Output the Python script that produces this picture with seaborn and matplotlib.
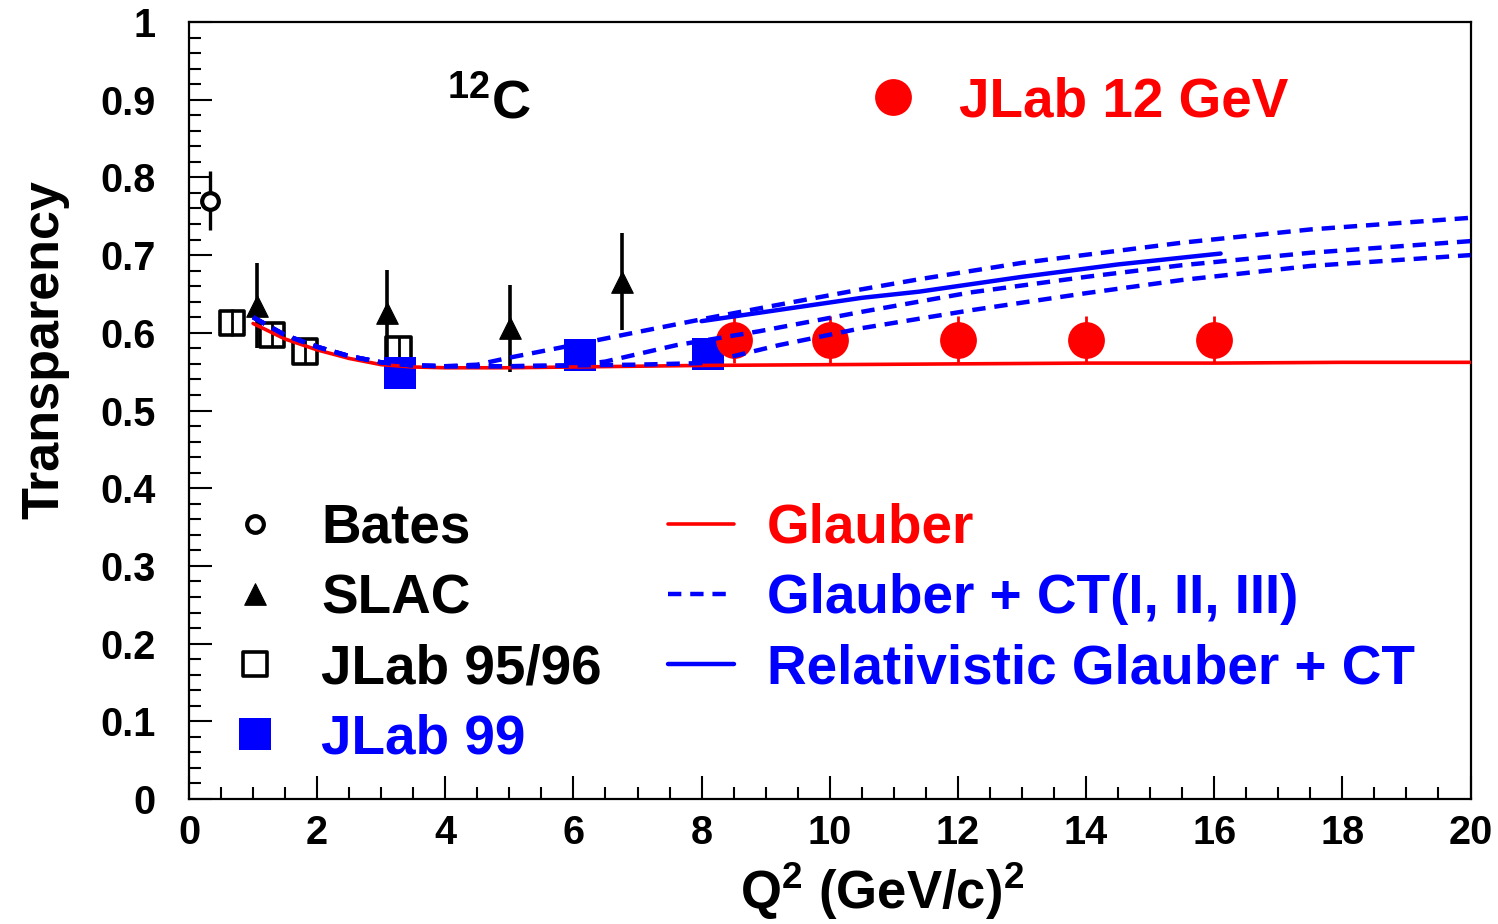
import numpy as np
import pandas as pd
import matplotlib
matplotlib.use("Agg")
import matplotlib.pyplot as plt
import seaborn as sns
from matplotlib.ticker import MultipleLocator, FixedLocator, FixedFormatter

# ---------------- data ----------------
bates_q2 = [0.33]
bates_t = [0.770]
bates_err = [0.038]

slac_q2 = [1.06, 3.09, 5.01, 6.76]
slac_t = [0.635, 0.625, 0.606, 0.666]
slac_err = [0.055, 0.056, 0.056, 0.062]

jlab9596_q2 = [0.67, 1.29, 1.81, 3.27]
jlab9596_t = [0.613, 0.597, 0.576, 0.579]
jlab9596_err = [0.017, 0.015, 0.015, 0.017]

jlab99_q2 = [3.30, 6.10, 8.10]
jlab99_t = [0.548, 0.571, 0.573]
jlab99_err = [0.010, 0.010, 0.010]

jlab12_q2 = [8.5, 10.0, 12.0, 14.0, 16.0]
jlab12_t = [0.591, 0.591, 0.591, 0.591, 0.591]
jlab12_err = [0.030, 0.030, 0.030, 0.030, 0.030]

glauber_q2 = [1.0, 1.5, 2.0, 2.5, 3.0, 3.5, 4.0, 5.0, 6.0, 8.0, 10.0, 12.0, 14.0, 16.0, 18.0, 20.0]
glauber_t = [0.612, 0.592, 0.578, 0.567, 0.559, 0.556, 0.555, 0.555, 0.556, 0.558, 0.559, 0.560, 0.561, 0.561, 0.562, 0.562]

ct1_q2 = [1.0, 1.5, 2.0, 2.5, 3.0, 3.5, 4.0, 4.5, 5.0, 5.8, 7.0, 8.1, 9.0, 10.5, 11.4, 13.0, 15.5, 17.5, 20.0]
ct1_t = [0.620, 0.597, 0.582, 0.570, 0.562, 0.558, 0.557, 0.559, 0.568, 0.581, 0.601, 0.619, 0.633, 0.656, 0.669, 0.690, 0.716, 0.733, 0.748]

ct2_q2 = [1.0, 1.5, 2.0, 2.5, 3.0, 3.5, 4.0, 5.0, 6.0, 6.5, 7.6, 8.9, 10.5, 12.2, 14.0, 15.5, 17.5, 20.0]
ct2_t = [0.620, 0.597, 0.582, 0.570, 0.562, 0.558, 0.557, 0.557, 0.558, 0.563, 0.584, 0.602, 0.627, 0.652, 0.672, 0.687, 0.703, 0.718]

ct3_q2 = [1.0, 1.5, 2.0, 2.5, 3.0, 3.5, 4.0, 5.0, 6.0, 7.0, 8.0, 8.4, 9.2, 10.5, 12.2, 14.0, 15.5, 17.5, 20.0]
ct3_t = [0.620, 0.597, 0.582, 0.570, 0.562, 0.558, 0.557, 0.557, 0.558, 0.559, 0.561, 0.568, 0.584, 0.606, 0.629, 0.651, 0.668, 0.686, 0.700]

relct_q2 = [8.0, 9.0, 10.5, 11.4, 13.0, 14.5, 16.1]
relct_t = [0.615, 0.627, 0.645, 0.653, 0.672, 0.688, 0.702]

x_ticks = [0, 2, 4, 6, 8, 10, 12, 14, 16, 18, 20]
x_ticklabels = ["0", "2", "4", "6", "8", "10", "12", "14", "16", "18", "20"]
y_ticks = [0.0, 0.1, 0.2, 0.3, 0.4, 0.5, 0.6, 0.7, 0.8, 0.9, 1.0]
y_ticklabels = ["0", "0.1", "0.2", "0.3", "0.4", "0.5", "0.6", "0.7", "0.8", "0.9", "1"]

RED = "#FF0000"
BLUE = "#0000FF"

# ---------------- style ----------------
sns.set_theme(style="white", rc={
    "text.color": "black", "axes.labelcolor": "black",
    "xtick.color": "black", "ytick.color": "black", "axes.edgecolor": "black",
})
plt.rcParams["font.family"] = ["Liberation Sans", "DejaVu Sans"]
plt.rcParams["font.weight"] = "bold"
plt.rcParams["mathtext.fontset"] = "custom"
plt.rcParams["mathtext.rm"] = "Liberation Sans:bold"
plt.rcParams["mathtext.it"] = "Liberation Sans:bold"
plt.rcParams["mathtext.bf"] = "Liberation Sans:bold"
plt.rcParams["mathtext.default"] = "rm"

fig = plt.figure(figsize=(14.98, 9.24), dpi=100)
L, B = 189 / 1498, 1 - 799 / 924
W, H = (1470.5 - 189) / 1498, (799 - 22) / 924
ax = fig.add_axes([L, B, W, H])

# ---------------- data points ----------------
ax.errorbar(bates_q2, bates_t, yerr=bates_err, fmt="none", ecolor="black", elinewidth=2.4, capsize=0, zorder=2)
ax.errorbar(slac_q2, slac_t, yerr=slac_err, fmt="none", ecolor="black", elinewidth=2.6, capsize=0, zorder=2)
ax.errorbar(jlab9596_q2, jlab9596_t, yerr=jlab9596_err, fmt="none", ecolor="black", elinewidth=2.0, capsize=0, zorder=2)
ax.errorbar(jlab99_q2, jlab99_t, yerr=jlab99_err, fmt="none", ecolor=BLUE, elinewidth=2.0, capsize=0, zorder=2)
ax.errorbar(jlab12_q2, jlab12_t, yerr=jlab12_err, fmt="none", ecolor=RED, elinewidth=2.0, capsize=0, zorder=2)

sns.scatterplot(x=bates_q2, y=bates_t, ax=ax, marker="o", s=12 ** 2, color="black",
                facecolor="white", edgecolor="black", linewidth=3.0, label="Bates", zorder=3)
sns.scatterplot(x=slac_q2, y=slac_t, ax=ax, marker="^", s=15.5 ** 2, color="black",
                edgecolor="black", linewidth=0.8, label="SLAC", zorder=3)
sns.scatterplot(x=jlab9596_q2, y=jlab9596_t, ax=ax, marker="s", s=17.5 ** 2, color="black",
                facecolor="none", edgecolor="black", linewidth=2.6, label="JLab 95/96", zorder=3)
sns.scatterplot(x=jlab99_q2, y=jlab99_t, ax=ax, marker="s", s=23 ** 2, color=BLUE,
                edgecolor=BLUE, linewidth=0, label="JLab 99", zorder=3)
sns.scatterplot(x=jlab12_q2, y=jlab12_t, ax=ax, marker="o", s=26.5 ** 2, color=RED,
                edgecolor=RED, linewidth=0, label="JLab 12 GeV", zorder=3)

# ---------------- curves ----------------
dash = (0, (3.0, 2.0))
sns.lineplot(x=glauber_q2, y=glauber_t, ax=ax, color=RED, linewidth=2.6, label="Glauber", zorder=4)
sns.lineplot(x=ct1_q2, y=ct1_t, ax=ax, color=BLUE, linewidth=3.2, linestyle=dash,
             label="Glauber + CT(I, II, III)", zorder=5)
sns.lineplot(x=ct2_q2, y=ct2_t, ax=ax, color=BLUE, linewidth=3.2, linestyle=dash, zorder=5)
sns.lineplot(x=ct3_q2, y=ct3_t, ax=ax, color=BLUE, linewidth=3.2, linestyle=dash, zorder=5)
sns.lineplot(x=relct_q2, y=relct_t, ax=ax, color=BLUE, linewidth=3.2,
             label="Relativistic Glauber + CT", zorder=5)

# ---------------- axes ----------------
ax.set_xlim(0, 20)
ax.set_ylim(0, 1)
ax.xaxis.set_major_locator(FixedLocator(x_ticks))
ax.xaxis.set_major_formatter(FixedFormatter(x_ticklabels))
ax.yaxis.set_major_locator(FixedLocator(y_ticks))
ax.yaxis.set_major_formatter(FixedFormatter(y_ticklabels))
ax.xaxis.set_minor_locator(MultipleLocator(0.5))
ax.yaxis.set_minor_locator(MultipleLocator(0.02))
ax.tick_params(which="both", direction="in", top=False, right=False, bottom=True, left=True,
               color="black", width=1.5)
ax.tick_params(which="major", length=16.5)
ax.tick_params(which="minor", length=8.5)
ax.tick_params(axis="y", which="major", pad=24, labelsize=28.5, labelcolor="black")
ax.tick_params(axis="x", which="major", pad=11, labelsize=28.5, labelcolor="black")
for lab in ax.get_xticklabels() + ax.get_yticklabels():
    lab.set_fontweight("bold")
for sp in ax.spines.values():
    sp.set_visible(True)
    sp.set_color("black")
    sp.set_linewidth(1.6)

ax.set_xlabel(r"Q$^{2}$ (GeV/c)$^{2}$", fontsize=38, fontweight="bold", color="black")
ax.xaxis.set_label_coords(0.541, -0.080)
ax.set_ylabel("Transparency", fontsize=37.5, fontweight="bold", color="black")
ax.yaxis.set_label_coords(-0.093, 0.578)

ax.text(4.03, 0.876, r"$^{12}$C", fontsize=39, fontweight="bold", ha="left", va="baseline",
        color="black")

# ---------------- legends ----------------
handles, labels = ax.get_legend_handles_labels()
hmap = dict(zip(labels, handles))
fs = 39.5
common = dict(frameon=False, borderpad=0, borderaxespad=0, handlelength=1.2,
              handletextpad=0.6, labelspacing=0.33, scatterpoints=1, scatteryoffsets=[0.5],
              loc="upper left", prop={"weight": "bold", "size": fs})

left_labels = ["Bates", "SLAC", "JLab 95/96", "JLab 99"]
leg1 = ax.legend([hmap[l] for l in left_labels], left_labels, bbox_to_anchor=(0.026, 0.381),
                 labelcolor=["black", "black", "black", BLUE], **common)
ax.add_artist(leg1)

right_labels = ["Glauber", "Glauber + CT(I, II, III)", "Relativistic Glauber + CT"]
leg2 = ax.legend([hmap[l] for l in right_labels], right_labels, bbox_to_anchor=(0.374, 0.381),
                 labelcolor=[RED, BLUE, BLUE], **common)
ax.add_artist(leg2)

top_labels = ["JLab 12 GeV"]
leg3 = ax.legend([hmap[l] for l in top_labels], top_labels, bbox_to_anchor=(0.524, 0.9300),
                 labelcolor=[RED], **common)

fig.savefig("out.png", dpi=100)
